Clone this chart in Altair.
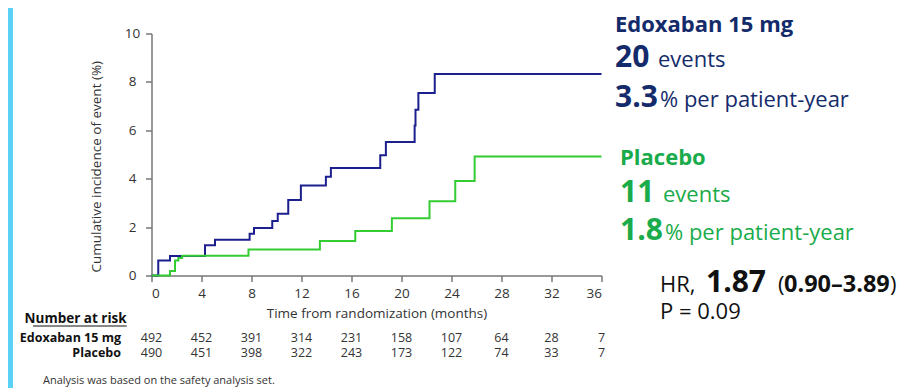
import altair as alt
import pandas as pd

# ---------------- data ----------------
arms = ["Edoxaban 15 mg", "Placebo"]
arm_colors = ["#1c1f8e", "#33cc33"]

edox_t = [0, 0.54, 1.48, 4.28, 5.08, 7.85, 8.2, 9.66, 10.1, 10.94, 11.95, 13.95, 14.35, 18.3, 18.75, 21.05, 21.12, 21.35, 22.66, 36]
edox_v = [0, 0.62, 0.81, 1.25, 1.48, 1.73, 1.96, 2.25, 2.55, 3.12, 3.72, 4.08, 4.44, 4.97, 5.52, 6.2, 6.85, 7.54, 8.33, 8.33]

plac_t = [0, 1.48, 1.88, 2.15, 2.45, 7.76, 13.47, 16.3, 19.23, 22.24, 24.3, 25.85, 36]
plac_v = [0, 0.19, 0.62, 0.72, 0.82, 1.07, 1.43, 1.84, 2.37, 3.07, 3.91, 4.92, 4.92]

risk_months = [0, 4, 8, 12, 16, 20, 24, 28, 32, 36]
risk_edox = [492, 452, 391, 314, 231, 158, 107, 64, 28, 7]
risk_plac = [490, 451, 398, 322, 243, 173, 122, 74, 33, 7]

x_ticks = [0, 4, 8, 12, 16, 20, 24, 28, 32, 36]
y_ticks = [0, 2, 4, 6, 8, 10]

y_title = "Cumulative incidence of event (%)"
x_title = "Time from randomization (months)"
risk_header = "Number at risk"
footnote = "Analysis was based on the safety analysis set."
edox_events, plac_events = "20", "11"
edox_rate, plac_rate = "3.3", "1.8"
hr_value, hr_ci, p_text = "1.87", "0.90\u20133.89", "P = 0.09"

# ---------------- layout helpers ----------------
FONT = "Open Sans"
OX, OY = 151.5, 33.5          # page position of plot origin (top-left)
W, H = 450, 242
SVG_H = 380
NAVY = "#142b6b"
GREEN_T = "#1aab4a"
DARK = "#333333"

def rx(xp):
    return xp - OX

def ry(yp):
    return yp - OY

one = pd.DataFrame({"k": [0]})

def label(text, xp, yp, size, color, bold=False, align="left", baseline="alphabetic", angle=0):
    kw = dict(text=text, align=align, baseline=baseline, fontSize=size,
              fontWeight="bold" if bold else "normal", color=color, font=FONT)
    if angle:
        kw["angle"] = angle
    return alt.Chart(one).mark_text(**kw).encode(x=alt.value(rx(xp)), y=alt.value(ry(yp)))

curves = pd.concat([
    pd.DataFrame({"t": edox_t, "v": edox_v, "arm": arms[0]}),
    pd.DataFrame({"t": plac_t, "v": plac_v, "arm": arms[1]}),
])

lines = alt.Chart(curves).mark_line(interpolate="step-after", strokeWidth=2).encode(
    x=alt.X("t:Q", scale=alt.Scale(domain=[0, 36], nice=False),
            axis=alt.Axis(values=x_ticks, title=x_title, format="d")),
    y=alt.Y("v:Q", scale=alt.Scale(domain=[0, 10], nice=False),
            axis=alt.Axis(values=y_ticks, title=None, labelAlign="center",
                          labelPadding=13.5, format="d")),
    color=alt.Color("arm:N", scale=alt.Scale(domain=arms, range=arm_colors), legend=None),
)

risk_df_e = pd.DataFrame({"t": risk_months, "n": risk_edox})
risk_df_p = pd.DataFrame({"t": risk_months, "n": risk_plac})

def risk_row(df, yp):
    return alt.Chart(df).mark_text(align="center", baseline="alphabetic", fontSize=12.5,
                                   font=FONT, color=DARK).encode(
        x=alt.X("t:Q"), y=alt.value(ry(yp)), text="n:Q")

layers = [
    # cyan side bar
    alt.Chart(one).mark_rect(color="#5ad2f8").encode(
        x=alt.value(-OX + 8), x2=alt.value(-OX + 13), y=alt.value(-OY + 8), y2=alt.value(ry(8 + SVG_H))),
    lines,
    label(y_title, 96.7, 166.7, 13.5, DARK, align="center", baseline="middle", angle=270),
    risk_row(risk_df_e, 342),
    risk_row(risk_df_p, 357),
    label(risk_header, 126.7, 323, 13.5, "#111", bold=True, align="right"),
    alt.Chart(one).mark_rule(color="#111", strokeWidth=1).encode(
        x=alt.value(rx(33)), x2=alt.value(rx(126.7)), y=alt.value(ry(326))),
    label(arms[0], 121, 342, 12.5, "#111", bold=True, align="right"),
    label(arms[1], 121, 357, 12.5, "#111", bold=True, align="right"),
    label(footnote, 43, 384, 11, DARK),
    # right-hand annotations
    label(arms[0], 615, 31.5, 22, NAVY, bold=True),
    label(edox_events, 615, 66.7, 30, NAVY, bold=True),
    label("events", 658, 66.7, 22, NAVY),
    label(edox_rate, 615, 106.7, 30, NAVY, bold=True),
    label("% per patient-year", 660, 106.7, 22, NAVY),
    label(arms[1], 620, 165, 22, GREEN_T, bold=True),
    label(plac_events, 620, 201.7, 30, GREEN_T, bold=True),
    label("events", 663, 201.7, 22, GREEN_T),
    label(plac_rate, 620, 240, 30, GREEN_T, bold=True),
    label("% per patient-year", 665, 240, 22, GREEN_T),
    label("HR,", 660, 291.7, 22, "#111"),
    label(hr_value, 706, 291.7, 30, "#111", bold=True),
    label("(", 778, 291.7, 22, "#111"),
    label(hr_ci, 784, 291.7, 23.5, "#111", bold=True),
    label(")", 890, 291.7, 22, "#111"),
    label(p_text, 660, 319, 22, "#111"),
]

chart = alt.layer(*layers).properties(
    width=W, height=H,
    autosize=alt.AutoSizeParams(type="none"),
    padding={"left": OX - 8, "top": OY - 8, "right": 899 - (OX - 8) - W, "bottom": SVG_H - (OY - 8) - H},
).configure_view(stroke=None).configure_axis(
    grid=False, domainColor="#777777", tickColor="#777777", domainWidth=1.5, tickWidth=1.5,
    tickSize=6, labelFont=FONT, labelFontSize=13.5, labelColor=DARK,
    titleFont=FONT, titleFontSize=13.5, titleFontWeight="normal", titleColor=DARK,
).configure_axisX(labelPadding=5, titlePadding=6)

chart.save("out.html", embed_options={"renderer": "svg", "actions": False})
